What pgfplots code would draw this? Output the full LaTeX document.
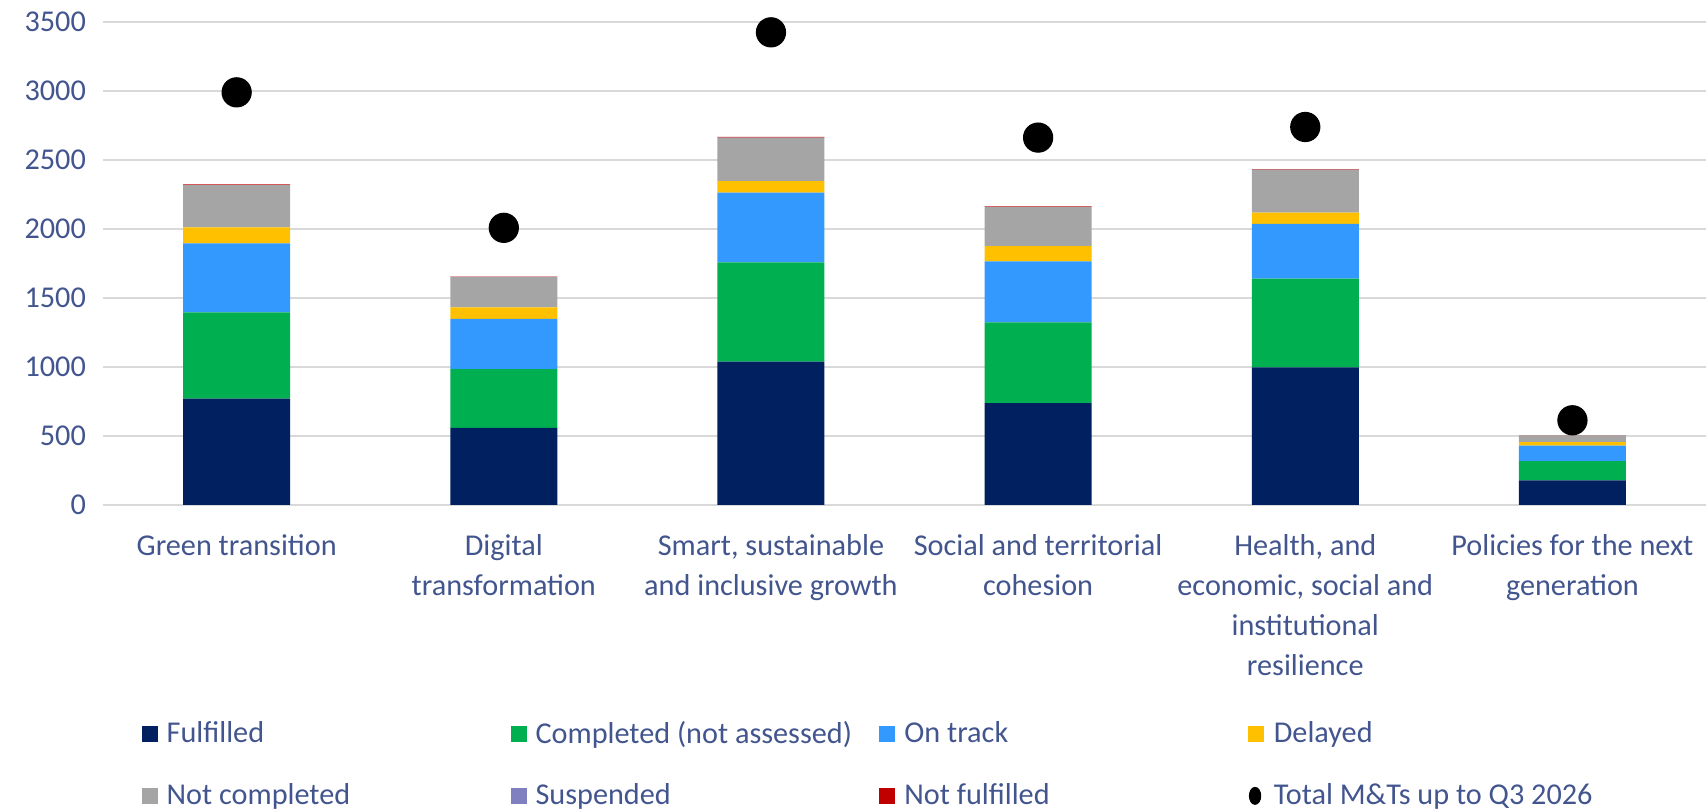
\documentclass[border=0pt]{standalone}
\usepackage{fontspec}
\setmainfont{Carlito}
\usepackage{pgfplots}
\pgfplotsset{compat=1.18}
\usepackage{pgfplotstable}

\definecolor{cful}{HTML}{002060}
\definecolor{ccomp}{HTML}{00B050}
\definecolor{ctrack}{HTML}{3399FF}
\definecolor{cdelay}{HTML}{FFC000}
\definecolor{cnotc}{HTML}{A5A5A5}
\definecolor{csusp}{HTML}{8080C0}
\definecolor{cnotf}{HTML}{C00000}
\definecolor{lbl}{HTML}{42558E}
\definecolor{gridgray}{HTML}{D9D9D9}

% counts of milestones and targets per component
\pgfplotstableread{
x ful  comp track delay notc susp notf total
0 770  625  500   116   307  0    5    2990
1 558  426  365   82    221  0    3    2008
2 1039 719  505   84    315  0    5    3425
3 738  585  442   111   284  0    4    2662
4 996  644  397   82    310  0    5    2739
5 178  139  113   25    48   0    2    613
}\data

\newcommand{\legtxt}[1]{\makebox[122.8pt][l]{#1}}

\begin{document}
\begin{tikzpicture}
\pgfplotsset{
  sq/.style={legend image code/.code={%
    \fill[##1] (0pt,-2.9pt) rectangle (5.7pt,2.9pt);
    \path (8.9pt,0pt);}},
  frame/.style={scale only axis, width=572.3pt, height=172.4pt,
    xmin=-0.5, xmax=5.5, ymin=0, ymax=3500},
}
\begin{axis}[
  frame,
  ybar stacked, bar width=38.2pt,
  xtick={0,...,5},
  xticklabels={Green transition,
    Digital\\transformation,
    {Smart, sustainable\\and inclusive growth},
    Social and territorial\\cohesion,
    {Health, and\\economic, social and\\institutional\\resilience},
    Policies for the next\\generation},
  ytick={0,500,...,3500},
  axis line style={draw=none},
  major tick length=0pt,
  ymajorgrids,
  grid style={color=gridgray, line width=0.6pt},
  tick label style={font=\fontsize{10.8}{14.3}\selectfont, text=lbl},
  xticklabel style={align=center, anchor=north, yshift=-7pt},
  yticklabel style={xshift=-2.6pt},
  /pgf/number format/assume math mode=true,
  /pgf/number format/1000 sep={},
  legend columns=4,
  legend style={draw=none, fill=none, at={(0,0)}, anchor=north west,
    xshift=13.6pt, yshift=-77pt, inner sep=0pt, column sep=0pt, row sep=12.8pt,
    nodes={inner sep=0pt, text=lbl, font=\fontsize{10.8}{12}\selectfont}},
]
\addplot[fill=cful, draw=none, sq] table[x=x, y=ful] {\data};
\addlegendentry{\legtxt{Fulfilled}}
\addplot[fill=ccomp, draw=none, sq] table[x=x, y=comp] {\data};
\addlegendentry{\legtxt{Completed (not assessed)}}
\addplot[fill=ctrack, draw=none, sq] table[x=x, y=track] {\data};
\addlegendentry{\legtxt{On track}}
\addplot[fill=cdelay, draw=none, sq] table[x=x, y=delay] {\data};
\addlegendentry{\legtxt{Delayed}}
\addplot[fill=cnotc, draw=none, sq] table[x=x, y=notc] {\data};
\addlegendentry{\legtxt{Not completed}}
\addplot[fill=csusp, draw=none, sq] table[x=x, y=susp] {\data};
\addlegendentry{\legtxt{Suspended}}
\addplot[fill=cnotf, draw=none, sq] table[x=x, y=notf] {\data};
\addlegendentry{\legtxt{Not fulfilled}}
\addlegendimage{legend image code/.code={%
    \fill[black] (2.4pt,0pt) ellipse (2pt and 3pt);
    \path (8.9pt,0pt);}}
\addlegendentry{\legtxt{Total M\&Ts up to Q3 2026}}
\end{axis}
% totals drawn in an overlaid axis so they are not stacked
\begin{axis}[frame, hide axis]
\addplot[only marks, mark=*, mark size=5.2pt, black] table[x=x, y=total] {\data};
\end{axis}
\pgfresetboundingbox
\path (-36.8pt,-109.2pt) rectangle (572.3pt,180.25pt);
\end{tikzpicture}
\end{document}
